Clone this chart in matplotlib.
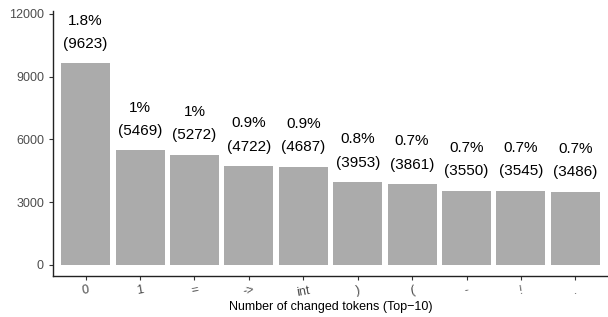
import numpy as np
import matplotlib
matplotlib.use("Agg")
import matplotlib.pyplot as plt

plt.rcParams['font.family'] = ['Liberation Sans', 'DejaVu Sans']

# Data
tokens = ['0', '1', '=', '->', 'int', ')', '(', '-', '!', '.']
counts = [9623, 5469, 5272, 4722, 4687, 3953, 3861, 3550, 3545, 3486]
percents = ['1.8%', '1%', '1%', '0.9%', '0.9%', '0.8%', '0.7%', '0.7%', '0.7%', '0.7%']

fig = plt.figure(figsize=(6.08, 3.17), dpi=100)
ax = fig.add_axes([53 / 608, 41 / 317, 555 / 608, 265 / 317])

x = np.arange(len(tokens))
ax.bar(x, counts, width=0.9, color='#ababab')

# Labels above bars
for xi, c, p in zip(x, counts, percents):
    ax.annotate(p + '\n(' + str(c) + ')', (xi, c), xytext=(0, 9),
                textcoords='offset points', ha='center', va='bottom',
                fontsize=11, linespacing=1.85, color='black')

ax.set_xlim(-0.6, 9.6)
ax.set_ylim(-530, 12130)
ax.set_yticks([0, 3000, 6000, 9000, 12000])
ax.set_xticks(x)
ax.set_xticklabels(tokens, rotation=10, color='#4d4d4d', fontsize=9)
ax.tick_params(axis='y', labelcolor='#4d4d4d', labelsize=9, length=3, color='#333333')
ax.tick_params(axis='x', length=3, color='#333333', pad=3)
ax.set_xlabel('Number of changed tokens (Top\u221210)', fontsize=9, labelpad=2)

for side in ['top', 'right']:
    ax.spines[side].set_visible(False)
for side in ['left', 'bottom']:
    ax.spines[side].set_linewidth(1.0)
    ax.spines[side].set_color('#222222')

fig.savefig('out.png', dpi=100)
